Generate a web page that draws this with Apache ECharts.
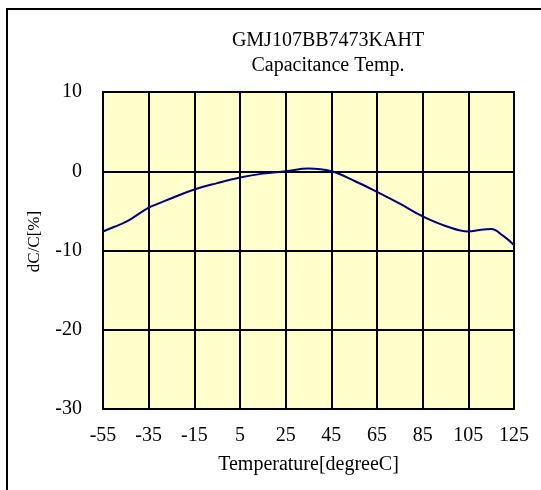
<!DOCTYPE html>
<html>
<head>
    <meta charset="utf-8">
    <title>capacitance temp</title>
    <script src="https://cdn.jsdelivr.net/npm/echarts@6/dist/echarts.min.js"></script>
    <style>
        body { margin: 0; background: #fff; }
    </style>
</head>
<body>
    <div id="chart" style="width: 541px;height:490px;"></div>
    <script type="text/javascript">
        // temperature [degC] and dC/C [%]
        var temps = [-55, -50, -45, -40, -35, -30, -25, -15, -5, 5, 15, 25, 35, 45, 55, 65, 75, 85, 95, 105, 110, 115, 120, 125];
        var dcc = [-7.6, -7.0, -6.4, -5.5, -4.6, -4.0, -3.4, -2.3, -1.5, -0.8, -0.3, 0.0, 0.35, 0.0, -1.2, -2.6, -4.1, -5.7, -6.9, -7.6, -7.4, -7.3, -8.1, -9.3];
        var titleLines = ['GMJ107BB7473KAHT', 'Capacitance Temp.'];

        var points = [];
        for (var i = 0; i < temps.length; i++) {
            points.push([temps[i], dcc[i]]);
        }

        var font = 'Liberation Serif';
        var myChart = echarts.init(document.getElementById('chart'));
        var option = {
            animation: false,
            graphic: [
                {
                    type: 'rect',
                    shape: { x: 7, y: 9, width: 700, height: 700 },
                    style: { fill: 'none', stroke: '#000', lineWidth: 2 }
                },
                {
                    type: 'text', x: 328, y: 31,
                    style: { text: titleLines[0], font: '20px "Liberation Serif"', fill: '#000', textAlign: 'center' }
                },
                {
                    type: 'text', x: 328, y: 56,
                    style: { text: titleLines[1], font: '20px "Liberation Serif"', fill: '#000', textAlign: 'center' }
                }
            ],
            grid: {
                left: 103, top: 92, width: 411, height: 317,
                show: true,
                backgroundColor: '#FFFFCC',
                borderColor: '#000',
                borderWidth: 2
            },
            xAxis: {
                type: 'value',
                min: -55, max: 125, interval: 20,
                name: 'Temperature[degreeC]',
                nameLocation: 'middle',
                nameGap: 46,
                nameTextStyle: { fontFamily: font, fontSize: 20, color: '#000' },
                axisLine: { onZero: false, lineStyle: { color: '#000', width: 2 } },
                axisTick: { show: false },
                axisLabel: { fontFamily: font, fontSize: 20, color: '#000', margin: 17 },
                splitLine: { lineStyle: { color: '#000', width: 2 } }
            },
            yAxis: {
                type: 'value',
                min: -30, max: 10, interval: 10,
                name: 'dC/C[%]',
                nameLocation: 'middle',
                nameGap: 60,
                nameTextStyle: { fontFamily: font, fontSize: 17, color: '#000', padding: [0, 0, 0, 18] },
                axisLine: { show: true, onZero: false, lineStyle: { color: '#000', width: 2 } },
                axisTick: { show: false },
                axisLabel: { fontFamily: font, fontSize: 20, color: '#000', margin: 21 },
                splitLine: { lineStyle: { color: '#000', width: 2 } }
            },
            series: [{
                type: 'line',
                data: points,
                smooth: 0.4,
                showSymbol: false,
                lineStyle: { color: '#000080', width: 2 }
            }]
        };
        myChart.setOption(option);
    </script>
</body>
</html>
